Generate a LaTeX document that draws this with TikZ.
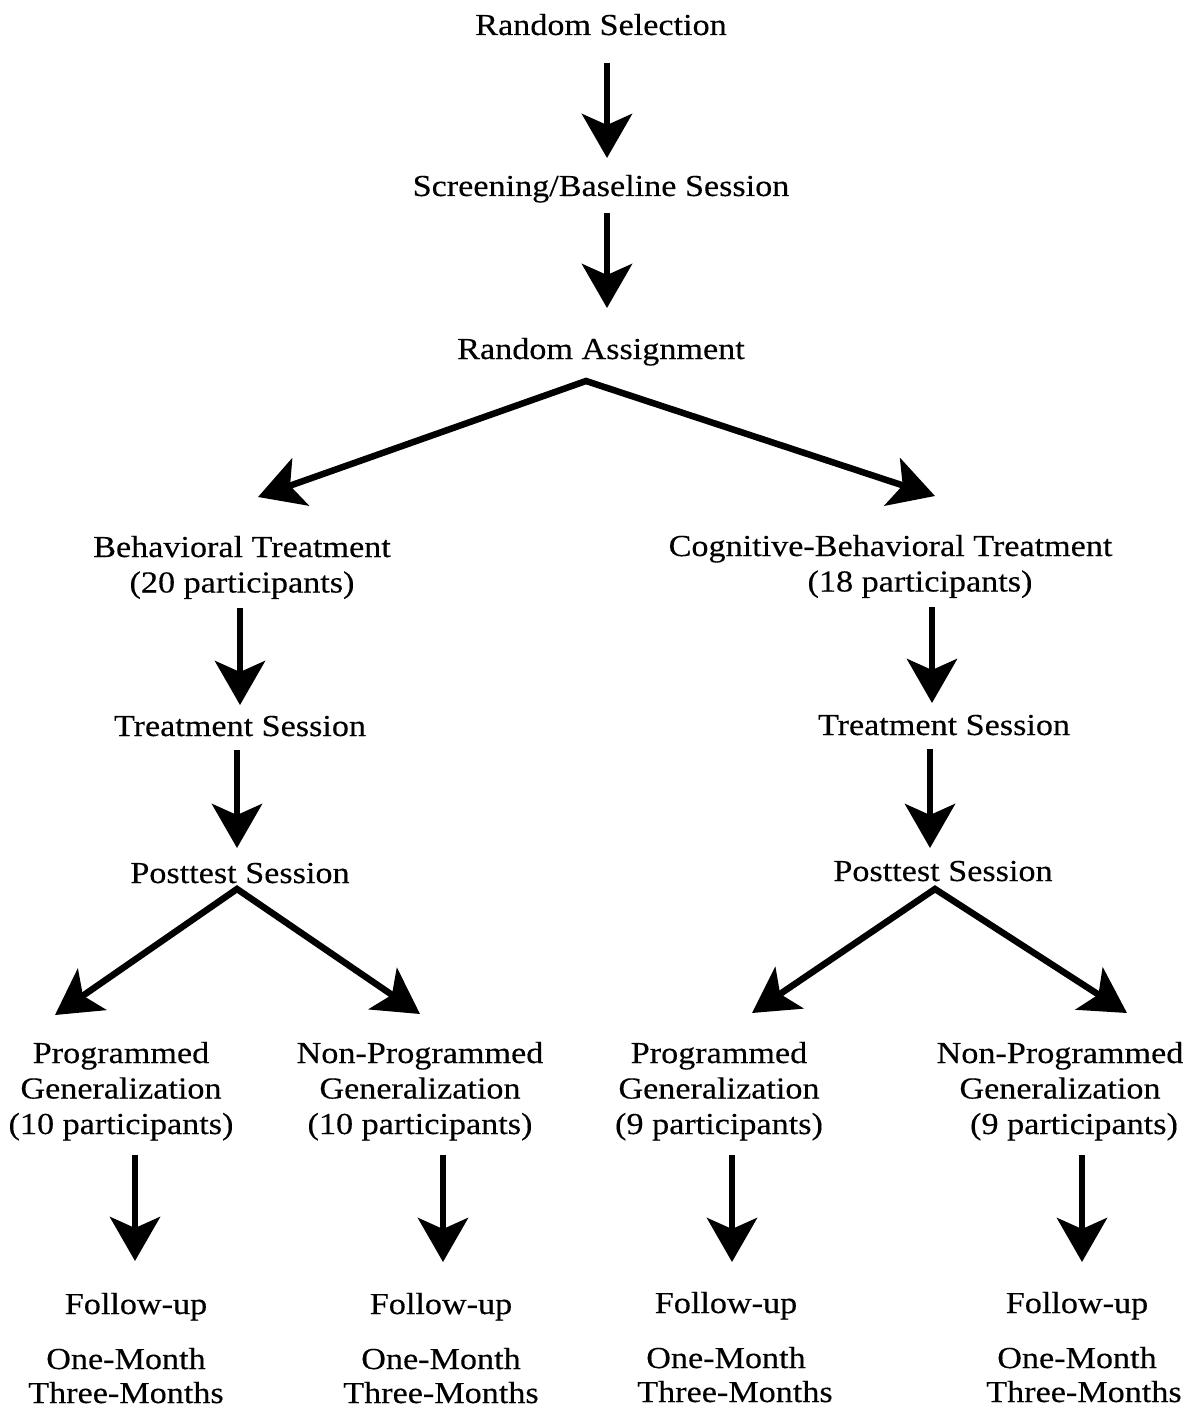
\documentclass[tikz,border=0pt]{standalone}
\usepackage{fontspec}
\setmainfont{Liberation Serif}[FakeStretch=1.12,FakeBold=0.3]
\usetikzlibrary{arrows.meta}
\begin{document}
\begin{tikzpicture}[x=1pt,y=-1pt,
  lbl/.style={anchor=base,inner sep=0pt,font=\fontsize{30.5}{35.5}\selectfont},
  arr/.style={line width=6.5pt,-{Stealth[length=44pt,width=50pt,inset=11pt]}},
  fork/.style={line width=6.5pt,line join=miter,{Stealth[length=45pt,width=50pt,inset=11pt]}-{Stealth[length=45pt,width=50pt,inset=11pt]}}]
\useasboundingbox (0,0) rectangle (1190,1407);
% nodes
\node[lbl] (rs) at (601,35) {Random Selection};
\node[lbl] (sb) at (601,196) {Screening/Baseline Session};
\node[lbl] (ra) at (601,359) {Random Assignment};
\node[lbl] (bt) at (242,557) {\begin{tabular}[t]{@{}c@{}}Behavioral Treatment\\(20 participants)\end{tabular}};
\node[lbl] (cbt) at (890.5,556) {\begin{tabular}[t]{@{}c@{}}Cognitive-Behavioral Treatment\\\hspace*{59pt}(18 participants)\end{tabular}};
\node[lbl] (ts1) at (240,736) {Treatment Session};
\node[lbl] (ts2) at (944,735) {Treatment Session};
\node[lbl] (pt1) at (240,883) {Posttest Session};
\node[lbl] (pt2) at (943,881) {Posttest Session};
\node[lbl] (g1) at (121,1063) {\begin{tabular}[t]{@{}c@{}}Programmed\\Generalization\\(10 participants)\end{tabular}};
\node[lbl] (g2) at (420,1063) {\begin{tabular}[t]{@{}c@{}}Non-Programmed\\Generalization\\(10 participants)\end{tabular}};
\node[lbl] (g3) at (719,1063) {\begin{tabular}[t]{@{}c@{}}Programmed\\Generalization\\(9 participants)\end{tabular}};
\node[lbl] (g4) at (1060,1063) {\begin{tabular}[t]{@{}c@{}}Non-Programmed\\Generalization\\\hspace*{28pt}(9 participants)\end{tabular}};
\node[lbl] (fu1) at (136,1314) {Follow-up};
\node[lbl] (fu2) at (441,1314) {Follow-up};
\node[lbl] (fu3) at (726,1313) {Follow-up};
\node[lbl] (fu4) at (1077,1313) {Follow-up};
\node[lbl] (om1) at (126,1369) {\begin{tabular}[t]{@{}c@{}}One-Month\\[-1.5pt]Three-Months\end{tabular}};
\node[lbl] (om2) at (441,1369) {\begin{tabular}[t]{@{}c@{}}One-Month\\[-1.5pt]Three-Months\end{tabular}};
\node[lbl] (om3) at (735,1368) {\begin{tabular}[t]{@{}c@{}}One-Month\hspace*{18pt}\\[-1.5pt]Three-Months\end{tabular}};
\node[lbl] (om4) at (1084,1368) {\begin{tabular}[t]{@{}c@{}}One-Month\hspace*{14pt}\\[-1.5pt]Three-Months\end{tabular}};
% connectors
\draw[arr] ([xshift=6pt,yshift=-28pt]rs.base) -- ([xshift=6pt,yshift=38pt]sb.base);
\draw[arr] ([xshift=6pt,yshift=-17pt]sb.base) -- ([xshift=6pt,yshift=51pt]ra.base);
\coordinate (raj) at ([xshift=-15pt,yshift=-22pt]ra.base);
\draw[fork] ([xshift=16pt,yshift=60pt]bt.base) -- (raj) -- ([xshift=44.5pt,yshift=60pt]cbt.base);
\draw[arr] ([xshift=-2pt,yshift=-51pt]bt.base) -- ([xshift=0pt,yshift=31pt]ts1.base);
\draw[arr] ([xshift=41.5pt,yshift=-51pt]cbt.base) -- ([xshift=-12pt,yshift=32pt]ts2.base);
\draw[arr] ([xshift=-3pt,yshift=-14pt]ts1.base) -- ([xshift=-3pt,yshift=35pt]pt1.base);
\draw[arr] ([xshift=-14pt,yshift=-14pt]ts2.base) -- ([xshift=-13pt,yshift=33pt]pt2.base);
\coordinate (p1j) at ([xshift=-3pt,yshift=-6pt]pt1.base);
\draw[fork] ([xshift=-66pt,yshift=48pt]g1.base) -- (p1j) -- ([xshift=0pt,yshift=49pt]g2.base);
\coordinate (p2j) at ([xshift=-8pt,yshift=-8pt]pt2.base);
\draw[fork] ([xshift=33pt,yshift=50pt]g3.base) -- (p2j) -- ([xshift=67pt,yshift=50pt]g4.base);
\draw[arr] ([xshift=14pt,yshift=-92pt]g1.base) -- ([xshift=-1pt,yshift=53pt]fu1.base);
\draw[arr] ([xshift=23pt,yshift=-92pt]g2.base) -- ([xshift=2pt,yshift=52pt]fu2.base);
\draw[arr] ([xshift=13pt,yshift=-92pt]g3.base) -- ([xshift=6pt,yshift=51pt]fu3.base);
\draw[arr] ([xshift=22pt,yshift=-92pt]g4.base) -- ([xshift=5pt,yshift=51pt]fu4.base);
\end{tikzpicture}
\end{document}
